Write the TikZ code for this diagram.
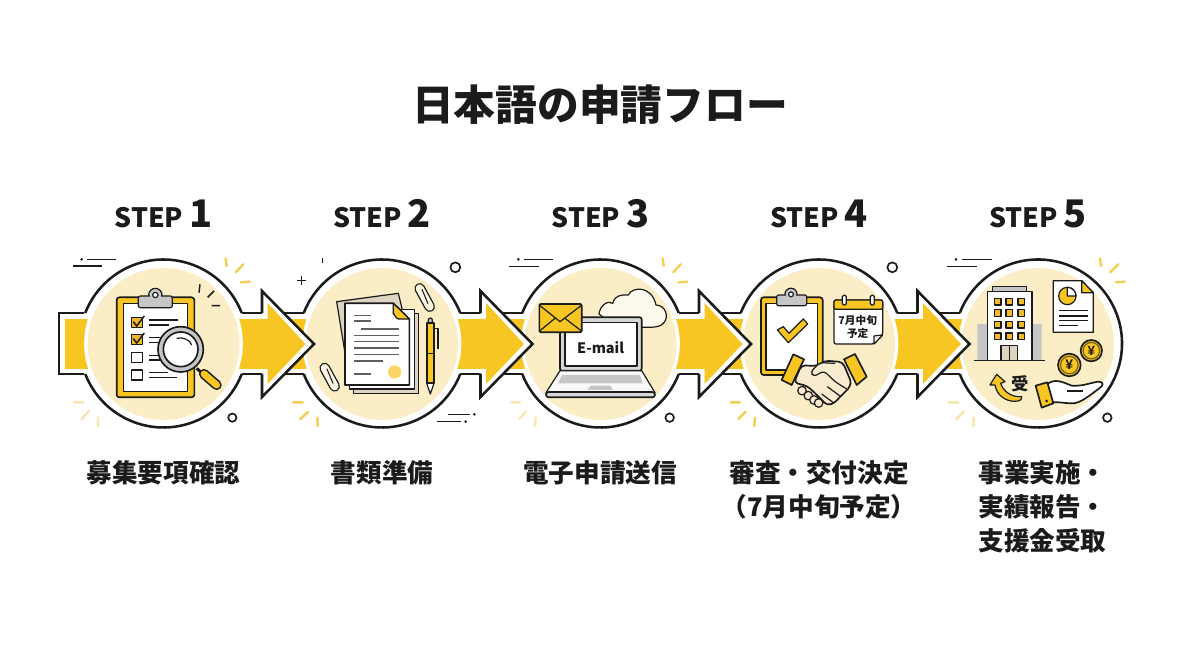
\documentclass[tikz,border=0pt]{standalone}
\usepackage{fontspec}
\setmainfont{Noto Sans CJK JP}
\newfontfamily\yenfont{Liberation Sans}
\definecolor{ink}{HTML}{1B1B1B}
\definecolor{yel}{HTML}{F8C622}
\definecolor{pale}{HTML}{FBEEC7}
\definecolor{gry}{HTML}{C6C6C6}
\definecolor{ray}{HTML}{F4CF55}
\definecolor{rayp}{HTML}{F8E7AE}
\definecolor{cream}{HTML}{F8EBCF}
\definecolor{beige}{HTML}{DDD5C2}
\tikzset{
 zoomat/.style 2 args={shift={(#1*0.75pt,-#2*0.75pt)},x=0.25pt,y=-0.25pt},
 rim/.style={draw=ink,line width=1.9pt},
 ol/.style={draw=ink,line width=1.25pt,line join=round},
 thin ol/.style={draw=ink,line width=0.9pt,line join=round},
 txtline/.style={draw=ink!75,line width=1pt},
 raya/.style={draw=ray,line width=1.8pt,line cap=round},
 rayb/.style={draw=rayp,line width=1.8pt,line cap=round},
 dec/.style={draw=ink,line width=1.1pt},
 ringmark/.style={draw=ink,line width=1.25pt},
 lbl/.style={inner sep=0pt,align=center,font=\fontsize{19.2pt}{25.5pt}\selectfont\bfseries,text=ink},
 steplbl/.style={inner sep=0pt,text=ink,font=\fontsize{20pt}{24pt}\selectfont\bfseries},
}
\newcommand{\stepnum}[1]{\fontsize{28.5pt}{30pt}\selectfont #1}
\begin{document}
\begin{tikzpicture}[x=0.75pt,y=-0.75pt]
\useasboundingbox (0,0) rectangle (1200,655);
\fill[white] (0,0) rectangle (1200,655);
\node[inner sep=0pt,text=ink,font=\fontsize{31.3pt}{36pt}\selectfont\bfseries] (title) at (600,105) {日本語の申請フロー};
\foreach \c/\n in {163.5/1,382/2,600.5/3,819/4,1038/5}{
  \node[steplbl] (step\n) at (\c,214) {STEP \stepnum{\n}};
}
\node[lbl] (lab1) at (163.5,473) {募集要項確認};
\node[lbl] (lab2) at (382,473) {書類準備};
\node[lbl] (lab3) at (600,473) {電子申請送信};
\node[lbl,anchor=north] (lab4) at (819,460) {審査・交付決定\\（7月中旬予定）};
\node[lbl,anchor=north] (lab5) at (1042.5,460) {事業実施・\\実績報告・\\支援金受取};
% band
\foreach \c in {163.5,382,600.5,819,1038}{\fill[white] (\c,343.5) circle[radius=63pt];}
\draw[rim,line join=miter] (84,313) -- (59,313) -- (59,374) -- (84,374);
\foreach \c in {163.5,382,600.5,819}{
  \draw[rim] (\c+78.25,313) -- (\c+140.5,313);
  \draw[rim] (\c+78.25,374) -- (\c+140.5,374);
  \draw[rim] (\c+78.25,313) arc[start angle=21.3,end angle=158.7,radius=63pt];
  \draw[rim] (\c-78.25,374) arc[start angle=201.3,end angle=338.7,radius=63pt];
}
\draw[rim] (1038-78.25,374) arc[start angle=201.3,end angle=518.7,radius=63pt];
\fill[yel] (65,319) rectangle (1000,369);
\foreach \c in {163.5,382,600.5,819,1038}{
  \fill[white] (\c,343.5) circle[radius=59.5pt];
  \fill[pale] (\c,344) circle[radius=57pt];
}
% arrow heads
\foreach \c in {163.5,382,600.5,819}{
  \fill[white] (\c+98.5,313) -- (\c+98.5,291) -- (\c+150.5,344) -- (\c+98.5,397) -- (\c+98.5,374) -- cycle;
  \draw[rim,line join=miter] (\c+98.5,313) -- (\c+98.5,291) -- (\c+150.5,344) -- (\c+98.5,397) -- (\c+98.5,374);
  \fill[yel] (\c+92,319) -- (\c+104,319) -- (\c+104,303) -- (\c+142,344) -- (\c+104,384) -- (\c+104,369) -- (\c+92,369) -- cycle;
}
% ===== icon 1
\begin{scope}[zoomat={50}{240}]
 \draw[dec] (110,58)--(198,58) (68,78)--(155,78); \fill[ink] (95,58) circle[radius=1.1pt];
 \draw[raya] (527,55)--(530,78) (557,97)--(580,73) (572,127)--(600,125);
 \draw[rayb] (72,487)--(100,487) (95,537)--(117,513) (145,532)--(143,558);
 \draw[ringmark] (547,533) circle[radius=3.1pt];
 \draw[ol,fill=yel,rounded corners=2pt] (200,172) rectangle (433,472);
 \draw[thin ol,fill=white] (220,190) rectangle (413,455);
 \draw[thin ol,fill=gry] (316,165) circle[radius=5pt];
 \draw[thin ol,fill=gry,rounded corners=1.5pt] (265,168) rectangle (367,203);
 \fill[gry] (300,160) rectangle (332,175);
 \draw[thin ol,fill=white] (316,165) circle[radius=2pt];
 \draw[thin ol,fill=yel!80!brown] (245,232) rectangle (277,262);
 \draw[thin ol,fill=yel!80!brown] (245,283) rectangle (277,313);
 \draw[thin ol] (245,337) rectangle (277,367);
 \draw[thin ol] (245,390) rectangle (277,420);
 \draw[draw=ink,line width=1.1pt] (250,245)--(260,258)--(283,228) (250,296)--(260,309)--(283,279);
 \draw[txtline,draw=ink] (297,240)--(385,240) (297,255)--(357,255) (297,292)--(335,292) (297,307)--(335,307) (297,347)--(330,347) (297,360)--(335,360) (297,398)--(355,398) (297,413)--(380,413);
 \draw[ink,line width=2.2pt] (440,385)--(462,405);
 \draw[ink,line width=7.6pt,line cap=round] (462,402)--(500,435);
 \draw[yel,line width=5.2pt,line cap=round] (462,402)--(500,435);
 \draw[ol,fill=gry] (392,328) circle[radius=17pt];
 \draw[ol,fill=white] (392,328) circle[radius=13pt];
 \draw[thin ol] (380,295) .. controls (400,290) and (420,300) .. (425,315);
 \draw[dec] (450,133)--(447,158) (492,153)--(473,172) (485,197)--(510,197);
\end{scope}
% ===== icon 2
\begin{scope}[zoomat={280}{240}]
 \draw[thin ol] (65,108)--(65,135) (52,122)--(78,122);
 \draw[dec] (127,55)--(127,68);
 \draw[ringmark] (526,82) circle[radius=3.7pt];
 \draw[rayb,draw=ray] (40,487)--(68,487) (60,538)--(85,515) (112,533)--(113,558);
 \draw[dec] (505,523)--(570,523) (472,545)--(542,545);
 \fill[ink] (583,523) circle[radius=1.1pt] (557,545) circle[radius=1.1pt];
 \draw[thin ol,fill=beige] (170,185)--(355,160)--(372,230)--(200,370)--cycle;
 \draw[thin ol,fill=beige] (220,220) rectangle (415,460);
 \draw[thin ol,fill=white] (208,208) rectangle (403,447);
 \draw[ol,fill=white] (195,190)--(340,190)--(388,237)--(388,435)--(195,435)--cycle;
 \draw[thin ol,fill=yel] (340,190)--(388,237)--(355,237) to[out=180,in=90] (340,222)--cycle;
 \draw[draw=ink!70,line width=1pt] (222,227)--(272,227) (222,243)--(272,243) (243,267)--(358,267) (222,286)--(358,286) (222,305)--(358,305) (222,324)--(358,324) (222,343)--(358,343) (222,363)--(310,363) (222,402)--(272,402);
 \fill[yel!70!white] (344,396) circle[radius=5pt];
 \draw[yel!60!pale,line width=0.6pt] (344,396) circle[radius=3.7pt];
 % pen
 \draw[thin ol,fill=white] (451,430)--(440,430)--(451,462)--(462,430)--cycle;
 \draw[thin ol,fill=gry] (445,250)--(445,240) arc[start angle=180,end angle=0,radius=1.5pt] -- (457,250) -- cycle;
 \draw[ol,fill=yel] (440,250) rectangle (462,430);
 \draw[thin ol] (440,340)--(462,340) (462,265)--(474,265)--(474,327);
 % clips
 \foreach \a/\b/\d/\e in {419/145/449/200,134/384/164/439}{
   \draw[draw=ink,line width=8pt,line cap=round] (\a,\b)--(\d,\e);
   \draw[draw=pale!50!white,line width=6pt,line cap=round] (\a,\b)--(\d,\e);
   \draw[draw=ink,line width=0.8pt,line cap=round] (\a+7,\b+3)--(\d-5,\e-9);
 }
\end{scope}
% ===== icon 3
\begin{scope}[zoomat={500}{240}]
 \draw[dec] (72,58)--(160,58) (28,80)--(118,80); \fill[ink] (55,58) circle[radius=1.1pt];
 \draw[raya] (488,55)--(491,78) (520,97)--(542,73) (535,127)--(562,125);
 \draw[rayb] (35,487)--(60,487) (58,537)--(78,515) (107,533)--(105,558);
 \draw[ringmark] (509,533) circle[radius=3.2pt];
 \draw[thin ol,fill=white!70!pale] (297,222) .. controls (300,195) and (325,180) .. (338,190) .. controls (345,160) and (380,165) .. (385,165) .. controls (395,140) and (455,135) .. (468,195) .. controls (495,195) and (510,230) .. (490,250) .. controls (480,262) and (460,262) .. (430,262) -- (350,262) -- cycle;
 \draw[ol,fill=gry!70!white,rounded corners=1.5pt] (180,232) rectangle (425,392);
 \draw[ol,fill=white] (195,248) rectangle (410,378);
 \node[inner sep=0pt,text=ink,font=\fontsize{10.8pt}{13pt}\selectfont\bfseries] (email) at (302,323) {E-mail};
 \draw[thin ol,fill=white!92!gry] (180,392)--(425,392)--(465,458)--(138,458)--cycle;
 \fill[gry] (185,405)--(420,405)--(428,430)--(175,430)--cycle;
 \fill[gry] (272,437)--(330,437)--(340,450)--(262,450)--cycle;
 \draw[ol,fill=gry!70!white,rounded corners=2pt] (138,456) rectangle (465,472);
 \draw[ol,fill=yel,rounded corners=1pt] (118,192) rectangle (245,277);
 \draw[thin ol] (120,197)--(180,245)--(243,197) (120,272)--(165,235) (243,272)--(195,235);
\end{scope}
% ===== icon 4
\begin{scope}[zoomat={720}{240}]
 \draw[rayb,draw=ray] (32,487)--(60,487) (55,537)--(77,515) (105,533)--(103,558);
 \draw[ringmark] (517,82) circle[radius=3.7pt];
 \draw[rayb] (686,487)--(714,487) (710,537)--(732,515) (762,533)--(760,558);
 \draw[ol,fill=yel,rounded corners=2pt] (123,172) rectangle (308,405);
 \draw[thin ol,fill=white] (138,190) rectangle (292,390);
 \draw[thin ol,fill=gry] (213,163) circle[radius=4.6pt];
 \draw[thin ol,fill=gry,rounded corners=1.5pt] (170,165) rectangle (260,197);
 \fill[gry] (198,158) rectangle (228,172);
 \draw[thin ol,fill=white] (213,163) circle[radius=1.8pt];
 \draw[thin ol,fill=yel] (172,270)--(190,260)--(207,280)--(250,237)--(263,252)--(205,308)--cycle;
 % calendar
 \draw[thin ol,fill=white,rounded corners=1.5pt] (342,180) -- (488,180) -- (488,285) -- (462,312) -- (342,312) -- cycle;
 \draw[thin ol,fill=yel,rounded corners=1.5pt] (342,180) rectangle (488,208);
 \draw[thin ol,fill=white,rounded corners=1pt] (367,166) rectangle (379,195);
 \draw[thin ol,fill=white,rounded corners=1pt] (451,166) rectangle (463,195);
 \draw[thin ol,fill=white] (488,285)--(462,288)--(462,312)--cycle;
 \node[inner sep=0pt,text=ink,font=\fontsize{8pt}{10pt}\selectfont\bfseries] (cal1) at (413,240) {7月中旬};
 \node[inner sep=0pt,text=ink,font=\fontsize{8pt}{10pt}\selectfont\bfseries] (cal2) at (413,281) {予定};
 % handshake
 \foreach \x/\y in {246/452,265/467,282/480,296/489}{\draw[thin ol,fill=cream] (\x,\y) circle[radius=3.2pt];}
 \draw[ol,fill=cream,rounded corners=3pt] (222,428)--(244,376)--(290,378)--(315,362)--(368,366)--(395,430)--(380,452)--(362,468)--(345,488)--(322,497)--(298,472)--(262,438)--cycle;
 \draw[thin ol,fill=cream,rounded corners=2.5pt] (345,370)--(300,368)--(272,395)--(280,410)--(312,393)--(345,425)--(385,450);
 \draw[thin ol] (322,440)--(360,468) (305,462)--(340,488);
 \draw[ol,fill=yel] (220,343)--(252,358)--(215,435)--(185,420)--cycle;
 \draw[ol,fill=yel] (372,358)--(405,342)--(440,410)--(410,435)--cycle;
\end{scope}
% ===== icon 5
\begin{scope}[zoomat={940}{240}]
 \draw[dec] (65,58)--(155,58) (20,80)--(110,80); \fill[ink] (48,58) circle[radius=1.1pt];
 \draw[raya] (480,55)--(483,78) (510,97)--(535,73) (528,127)--(555,125);
 \draw[rayb] (27,487)--(55,487) (50,537)--(72,515) (100,533)--(100,558);
 \draw[ringmark] (502,533) circle[radius=3.2pt];
 \fill[gry] (112,252) rectangle (142,362) (275,252) rectangle (305,362);
 \draw[thin ol,fill=gry] (157,140) rectangle (260,155);
 \draw[ol,fill=white] (142,155) rectangle (275,362);
 \foreach \x in {173,208,244}{\foreach \y in {185,219,254,289}{
   \draw[thin ol,fill=yel!85!brown] (\x-10,\y-10) rectangle (\x+10,\y+10);}}
 \draw[thin ol,fill=beige] (183,317) rectangle (233,362);
 \draw[thin ol] (208,317)--(208,362);
 \draw[ol] (102,362)--(315,362);
 \draw[thin ol,fill=white] (340,122)--(425,122)--(460,158)--(460,277)--(340,277)--cycle;
 \draw[thin ol,fill=yel] (425,122)--(460,158)--(425,158)--cycle;
 \draw[thin ol,fill=yel] (382,168) circle[radius=6.5pt];
 \draw[thin ol,fill=white] (382,168)--(382,142) arc[start angle=90,end angle=0,radius=6.5pt]--cycle;
 \draw[txtline,draw=ink] (357,212)--(443,212) (357,228)--(443,228) (357,242)--(443,242) (357,257)--(415,257);
 \draw[ol,fill=yel] (454,332) circle[radius=8pt];
 \draw[thin ol,draw=ink!60!yel] (454,332) circle[radius=6.2pt];
 \draw[ol,fill=yel] (388,375) circle[radius=8.5pt];
 \draw[thin ol,draw=ink!60!yel] (388,375) circle[radius=6.6pt];
 \node[inner sep=0pt,text=ink,font=\yenfont\fontsize{10pt}{10pt}\selectfont\bfseries] (yen1) at (454,332) {¥};
 \node[inner sep=0pt,text=ink,font=\yenfont\fontsize{10.5pt}{10pt}\selectfont\bfseries] (yen2) at (388,375) {¥};
 \draw[ol,fill=white] (322,432) .. controls (345,415) and (365,425) .. (395,437) .. controls (430,440) and (460,425) .. (478,425) .. controls (492,427) and (490,437) .. (478,445) .. controls (450,465) and (420,492) .. (395,490) .. controls (375,490) and (355,485) .. (338,487) -- cycle;
 \draw[thin ol] (382,453)--(430,453);
 \draw[ol,fill=yel] (287,437)--(322,427)--(340,490)--(305,503)--cycle;
 \fill[ink] (320,483) circle[radius=1.1pt];
 \node[inner sep=0pt,text=ink,font=\fontsize{13pt}{14pt}\selectfont\bfseries] (uke) at (240,430) {受};
 \draw[thin ol,fill=yel] (150,435)--(170,403)--(195,425)--(182,430) .. controls (190,455) and (215,472) .. (245,470) .. controls (245,480) and (240,483) .. (225,484) .. controls (195,484) and (170,465) .. (165,435) -- cycle;
\end{scope}
\end{tikzpicture}
\end{document}
